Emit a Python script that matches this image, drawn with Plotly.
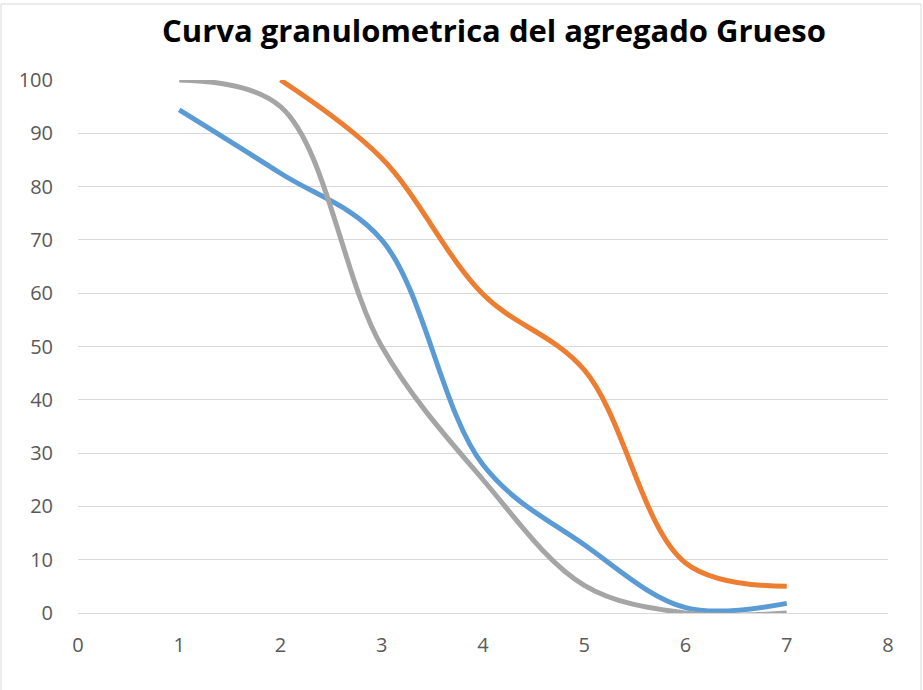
import plotly.graph_objects as go

# tamiz (numero de orden) y % que pasa
x_blue = [1, 2, 3, 4, 5, 6, 7]
y_blue = [94.4, 82.5, 70.0, 27.8, 12.8, 1.0, 1.8]

x_orange = [2, 3, 4, 5, 6, 7]
y_orange = [100.0, 85.3, 59.8, 45.6, 9.4, 5.0]

x_gray = [1, 2, 3, 4, 5, 6, 7]
y_gray = [100.0, 95.0, 50.0, 25.0, 5.2, 0.0, 0.0]

x_ticks = [0, 1, 2, 3, 4, 5, 6, 7, 8]
y_ticks = [0, 10, 20, 30, 40, 50, 60, 70, 80, 90, 100]

title_text = 'Curva granulometrica del agregado Grueso'

W, H = 923, 690
L, R, T, B = 78, 35, 80, 77

fig = go.Figure()
for xs, ys, col in [(x_blue, y_blue, '#5B9BD5'),
                    (x_orange, y_orange, '#ED7D31'),
                    (x_gray, y_gray, '#A5A5A5')]:
    fig.add_trace(go.Scatter(x=xs, y=ys, mode='lines',
                             line=dict(color=col, width=5, shape='spline', smoothing=1),
                             showlegend=False, hoverinfo='x+y'))

pw, ph = W - L - R, H - T - B
fig.add_shape(type='rect', xref='paper', yref='paper',
              x0=(1 - L) / pw, x1=(W - 2 - L) / pw,
              y0=(H - T - (H - 2)) / ph, y1=(H - T - 1) / ph,
              line=dict(color='#D9D9D9', width=1), layer='below')

fig.update_layout(
    width=W, height=H,
    margin=dict(l=L, r=R, t=T, b=B),
    paper_bgcolor='white', plot_bgcolor='white',
    font=dict(family='Open Sans', color='#595959', size=20),
    title=dict(text='<b>' + title_text + '</b>', x=(494 - L) / pw, xref='paper',
               xanchor='center', y=1 - 31 / H, yanchor='middle',
               font=dict(family='Open Sans', size=31, color='black')),
    xaxis=dict(range=[0, 8], tickvals=x_ticks, showgrid=False, zeroline=False,
               showline=False, ticks='outside', ticklen=14, tickcolor='rgba(0,0,0,0)',
               fixedrange=True),
    yaxis=dict(range=[0, 100], tickvals=y_ticks, showgrid=True, gridcolor='#D9D9D9',
               gridwidth=1.3, zeroline=True, zerolinecolor='#D9D9D9', zerolinewidth=1.3,
               showline=False, ticks='outside', ticklen=20, tickcolor='rgba(0,0,0,0)',
               fixedrange=True),
)

fig.write_html('out.html', config={'displayModeBar': False},
               post_script="document.body.style.margin='0';")
